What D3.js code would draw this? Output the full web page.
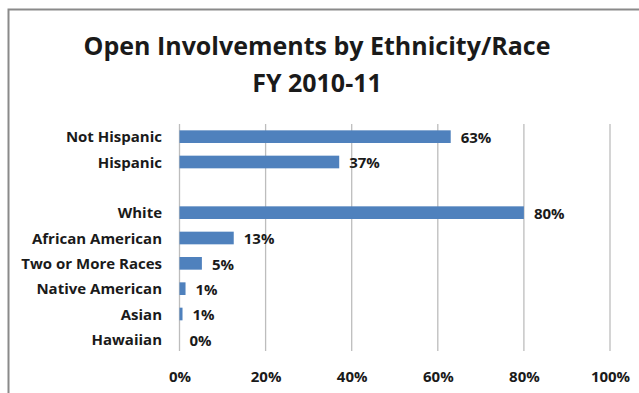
<!DOCTYPE html>
<html>
<head>
<meta charset="utf-8">
<script src="https://cdn.jsdelivr.net/npm/d3@7"></script>
<style>
  html, body { margin: 0; padding: 0; background: #fff; }
  svg { display: block; }
  text { font-family: "Open Sans", Lato, sans-serif; font-weight: bold; fill: #1a1a1a; }
</style>
</head>
<body>
<svg id="chart" width="639" height="393"></svg>
<script>
// Share of open involvements, FY 2010-11
const ethnicity = ["Not Hispanic", "Hispanic"];
const ethnicityShare = [0.63, 0.371];
const race = ["White", "African American", "Two or More Races", "Native American", "Asian", "Hawaiian"];
const raceShare = [0.80, 0.126, 0.052, 0.014, 0.007, 0.0];
const tickValues = [0, 0.2, 0.4, 0.6, 0.8, 1.0];
const titleLines = ["Open Involvements by Ethnicity/Race", "FY 2010-11"];

const rows = ethnicity.map((c, i) => ({ key: c, label: c, value: ethnicityShare[i] }))
  .concat([{ key: "__gap__", label: "", value: null }])
  .concat(race.map((c, i) => ({ key: c, label: c, value: raceShare[i] })));

const svg = d3.select("#chart");
const W = 639, H = 393;

// outer frame (runs off the right and bottom edges)
svg.append("path")
  .attr("d", `M8.5,${H + 2} L8.5,9.5 L${W + 2},9.5`)
  .attr("fill", "none")
  .attr("stroke", "#8a8a8a")
  .attr("stroke-width", 2);

// title
const title = svg.append("text")
  .attr("text-anchor", "middle")
  .style("font-size", "25px");
titleLines.forEach((t, i) => {
  title.append("tspan").attr("x", 317).attr("y", 55 + i * 37).text(t);
});

const x = d3.scaleLinear().domain([0, 1]).range([179.5, 610]);
const y = d3.scaleBand()
  .domain(rows.map(d => d.key))
  .range([124, 352])
  .paddingInner(0.5)
  .paddingOuter(0.25);

// vertical gridlines
svg.append("g")
  .selectAll("line")
  .data(tickValues)
  .join("line")
  .attr("x1", d => x(d)).attr("x2", d => x(d))
  .attr("y1", 124).attr("y2", 351)
  .attr("stroke", "#bdbdbd")
  .attr("stroke-width", 1.3);

// bars
const data = rows.filter(d => d.value !== null);
svg.append("g")
  .selectAll("rect")
  .data(data)
  .join("rect")
  .attr("x", x(0))
  .attr("y", d => y(d.key))
  .attr("width", d => x(d.value) - x(0))
  .attr("height", y.bandwidth())
  .attr("fill", "#4f81bd");

// value labels
const pct = d3.format(".0%");
svg.append("g")
  .selectAll("text")
  .data(data)
  .join("text")
  .attr("x", d => x(d.value) + 10)
  .attr("y", d => y(d.key) + y.bandwidth() / 2)
  .attr("dy", "0.42em")
  .style("font-size", "15px")
  .text(d => pct(d.value));

// category labels
svg.append("g")
  .selectAll("text")
  .data(data)
  .join("text")
  .attr("x", 162)
  .attr("y", d => y(d.key) + y.bandwidth() / 2)
  .attr("dy", "0.38em")
  .attr("text-anchor", "end")
  .style("font-size", "15px")
  .text(d => d.label);

// x axis tick labels
const axis = svg.append("g")
  .attr("transform", "translate(0,381.5)")
  .call(d3.axisBottom(x).tickValues(tickValues).tickFormat(pct).tickSize(0).tickPadding(0));
axis.select(".domain").remove();
axis.selectAll("text")
  .attr("dy", "0")
  .style("font-family", "'Open Sans', Lato, sans-serif")
  .style("font-weight", "bold")
  .style("font-size", "15px")
  .attr("fill", "#1a1a1a");
</script>
</body>
</html>
